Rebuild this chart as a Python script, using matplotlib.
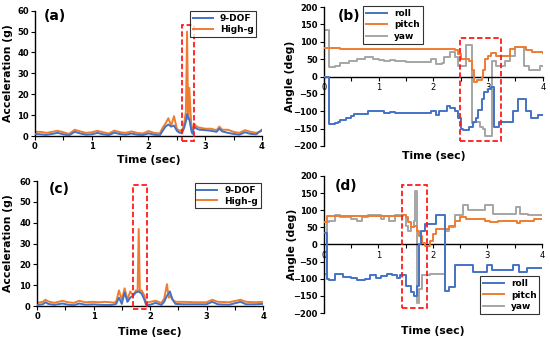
import matplotlib.pyplot as plt
from matplotlib.patches import Rectangle

BLUE = '#4472C4'
ORANGE = '#ED7D31'
GRAY = '#A5A5A5'
RED = '#FF1A1A'

# ---- (a) acceleration, first impact ----
t_a = [0, 0.1, 0.2, 0.3, 0.4, 0.5, 0.6, 0.7, 0.8, 0.9, 1.0, 1.1, 1.2, 1.3, 1.4,
       1.5, 1.6, 1.7, 1.8, 1.9, 2.0, 2.1, 2.2, 2.25, 2.3, 2.35, 2.4, 2.45, 2.5,
       2.55, 2.6, 2.63, 2.66, 2.68, 2.70, 2.72, 2.74, 2.76, 2.78, 2.8, 2.85, 2.9,
       3.0, 3.1, 3.2, 3.25, 3.3, 3.4, 3.5, 3.6, 3.7, 3.8, 3.9, 4.0]
dof_a = [1.0, 0.8, 0.5, 1.0, 1.5, 0.8, 0.3, 2.0, 1.2, 0.6, 0.8, 1.5, 0.8, 0.4, 1.6,
         0.9, 0.6, 1.2, 0.6, 0.4, 1.3, 0.6, 0.3, 2.5, 4.5, 5.5, 4.5, 5.0, 2.5,
         1.5, 2.0, 4.0, 7.0, 10.5, 9.0, 8.0, 5.0, 2.0, 1.0, 4.5, 3.5, 3.0,
         2.8, 2.5, 2.0, 3.5, 2.2, 1.5, 1.0, 0.6, 1.8, 1.0, 0.8, 3.0]
hig_a = [2.0, 2.0, 1.5, 2.0, 2.5, 1.8, 1.0, 3.0, 2.2, 1.5, 1.8, 2.5, 1.8, 1.2, 2.6,
         1.8, 1.5, 2.2, 1.5, 1.2, 2.4, 1.5, 1.2, 4.0, 6.0, 8.5, 5.0, 9.5, 3.5,
         2.5, 3.0, 6.0, 12.0, 50.0, 8.0, 23.0, 12.0, 3.0, 1.5, 6.0, 4.5, 4.0,
         3.5, 3.5, 2.8, 4.5, 3.0, 3.0, 2.0, 1.5, 2.8, 2.0, 1.5, 2.5]

# ---- (c) acceleration, second impact ----
t_c = [0, 0.1, 0.15, 0.2, 0.3, 0.45, 0.55, 0.65, 0.75, 0.85, 1.0, 1.1, 1.2, 1.3,
       1.35, 1.4, 1.45, 1.5, 1.55, 1.6, 1.65, 1.7, 1.75, 1.78, 1.8, 1.82, 1.85,
       1.9, 1.93, 2.0, 2.1, 2.2, 2.25, 2.3, 2.33, 2.35, 2.4, 2.45, 2.6, 2.8, 3.0,
       3.1, 3.2, 3.4, 3.6, 3.7, 3.85, 4.0]
dof_c = [0.5, 0.8, 1.8, 1.0, 0.5, 1.2, 0.6, 0.4, 1.2, 0.6, 0.8, 0.6, 0.5, 0.5,
         0.6, 1.0, 4.0, 1.0, 6.5, 2.0, 4.0, 5.0, 6.5, 6.8, 7.0, 6.5, 6.0,
         3.0, 0.5, 0.6, 1.5, 0.5, 2.0, 5.0, 6.0, 7.0, 3.0, 1.0, 0.8, 0.8, 0.8,
         2.0, 0.8, 0.6, 2.0, 0.8, 0.8, 1.0]
hig_c = [1.5, 2.0, 3.0, 2.2, 1.5, 2.5, 1.8, 1.5, 2.5, 1.8, 2.0, 1.8, 2.0, 1.8,
         1.6, 2.0, 7.5, 3.0, 8.5, 3.0, 7.0, 5.0, 7.5, 7.0, 37.0, 7.0, 7.5,
         5.0, 1.5, 2.0, 2.5, 1.5, 3.5, 10.5, 4.0, 5.0, 3.0, 2.0, 2.0, 1.8, 1.8,
         3.0, 2.0, 1.8, 3.0, 2.0, 1.8, 2.0]

# ---- (b) orientation, first impact ----
t_b_roll = [0, 0.08, 0.1, 0.2, 0.25, 0.3, 0.4, 0.5, 0.55, 0.8, 1.0, 1.1, 1.2, 1.3,
            1.95, 2.05, 2.1, 2.25, 2.3, 2.4, 2.45, 2.5, 2.55, 2.65, 2.72, 2.78,
            2.82, 2.88, 2.92, 3.0, 3.05, 3.1, 3.2, 3.45, 3.55, 3.7, 3.78, 3.92, 4.0]
roll_b = [0, 0, -137, -135, -130, -125, -120, -115, -108, -98, -100, -105, -103, -106,
          -98, -110, -100, -85, -92, -100, -120, -150, -155, -145, -130, -120,
          -95, -65, -45, -35, -30, -145, -132, -100, -65, -100, -120, -110, -110]
t_b_pitch = [0, 0.3, 0.5, 2.3, 2.4, 2.45, 2.5, 2.65, 2.7, 2.75, 2.8, 2.88, 2.9,
             2.95, 3.0, 3.05, 3.15, 3.4, 3.5, 3.7, 3.8, 4.0]
pitch_b = [82, 80, 78, 78, 75, 65, 50, 45, 20, -15, -10, 0, 20,
           50, 60, 68, 60, 80, 85, 75, 70, 67]
t_b_yaw = [0, 0.08, 0.1, 0.2, 0.3, 0.45, 0.6, 0.75, 0.9, 1.0, 1.1, 1.2, 1.3, 1.5,
           1.95, 2.05, 2.15, 2.2, 2.3, 2.4, 2.45, 2.6, 2.7, 2.75, 2.85, 2.9,
           2.95, 3.07, 3.15, 3.3, 3.4, 3.5, 3.65, 3.75, 3.95, 4.0]
yaw_b = [135, 135, 28, 30, 40, 45, 50, 55, 50, 48, 45, 48, 45, 43,
         50, 35, 40, 55, 70, 55, 30, 90, -135, -130, -145, -150,
         -170, 45, 30, 45, 60, 85, 30, 20, 30, 30]

# ---- (d) orientation, second impact ----
t_d_roll = [0, 0.05, 0.1, 0.2, 0.35, 0.5, 0.6, 0.75, 0.85, 0.95, 1.05, 1.15, 1.25,
            1.35, 1.4, 1.5, 1.6, 1.65, 1.7, 1.75, 1.78, 1.85, 2.05, 2.22, 2.3,
            2.4, 2.73, 2.99, 3.08, 3.47, 3.58, 3.72, 4.0]
roll_d = [35, -100, -105, -85, -95, -98, -105, -100, -90, -97, -92, -85, -90,
          -97, -90, -120, -140, -150, -120, 0, 40, 60, 85, -135, -125,
          -60, -80, -60, -75, -60, -80, -70, -70]
t_d_pitch = [0, 0.05, 0.3, 1.45, 1.5, 1.55, 1.6, 1.65, 1.7, 1.75, 1.8, 1.85, 1.95,
             2.0, 2.05, 2.3, 2.4, 2.5, 2.6, 2.95, 3.05, 3.2, 3.55, 3.6, 3.85, 4.0]
pitch_d = [65, 82, 84, 85, 80, 65, 50, 55, 40, 25, 5, -5, 10,
           30, 45, 55, 70, 80, 75, 68, 65, 70, 63, 70, 73, 73]
t_d_yaw = [0, 0.05, 0.1, 0.2, 0.3, 0.5, 0.6, 0.7, 0.8, 1.05, 1.1, 1.2, 1.3, 1.5,
           1.55, 1.6, 1.65, 1.68, 1.71, 1.75, 1.8, 1.95, 2.22, 2.3, 2.4, 2.55,
           2.65, 2.95, 3.1, 3.52, 3.6, 3.75, 4.0]
yaw_d = [-85, 65, 70, 85, 80, 75, 70, 80, 85, 75, 82, 70, 85, 55,
         40, 50, 70, 155, -170, -130, -90, -85, 40, 50, 85, 115,
         100, 115, 90, 110, 90, 85, 85]

# dashed boxes: (t0, t1, y0, y1)
box_a = (2.59, 2.80, -2.4, 53)
box_b = (2.48, 3.23, -185, 111)
box_c = (1.70, 1.95, -1.5, 58)
box_d = (1.43, 1.89, -185, 174)

fig = plt.figure(figsize=(5.5, 3.4), dpi=100)
ax_a = fig.add_axes([0.0636, 0.600, 0.4127, 0.3685])
ax_b = fig.add_axes([0.589, 0.5706, 0.398, 0.4088])
ax_c = fig.add_axes([0.0673, 0.100, 0.411, 0.3676])
ax_d = fig.add_axes([0.589, 0.0794, 0.396, 0.403])

lw = 1.4
tick_font = 6
lab_font = 7.8


def box(ax, b):
    ax.add_patch(Rectangle((b[0], b[2]), b[1] - b[0], b[3] - b[2], fill=False,
                           ec=RED, ls=(0, (3, 1.5)), lw=1.3, clip_on=False, zorder=5))


def style(ax):
    for s in ['top', 'right']:
        ax.spines[s].set_visible(False)
    for s in ['left', 'bottom']:
        ax.spines[s].set_linewidth(1.0)
    ax.set_xlim(0, 4)
    ax.set_xticks([0, 1, 2, 3, 4])
    ax.set_xticks([0.5, 1.5, 2.5, 3.5], minor=True)
    ax.tick_params(labelsize=tick_font, length=3, width=0.8, pad=1.5)
    ax.tick_params(which='minor', length=3, width=0.8)
    for lbl in ax.get_xticklabels() + ax.get_yticklabels():
        lbl.set_fontweight('bold')


def accel(ax, t, d, h, tag, ylx, xly, leg_anchor, tag_xy):
    ax.plot(t, d, color=BLUE, lw=lw, label='9-DOF', zorder=3)
    ax.plot(t, h, color=ORANGE, lw=lw, label='High-g', zorder=2)
    style(ax)
    ax.set_ylim(0, 60)
    ax.set_yticks(range(0, 61, 10))
    ax.set_ylabel('Acceleration (g)', fontsize=lab_font, fontweight='bold')
    ax.set_xlabel('Time (sec)', fontsize=lab_font, fontweight='bold')
    ax.yaxis.set_label_coords(ylx, 0.5)
    ax.xaxis.set_label_coords(0.5, xly)
    leg = ax.legend(loc='upper right', bbox_to_anchor=leg_anchor,
                    frameon=True, fancybox=False, edgecolor='black',
                    handlelength=2.2, borderpad=0.3, labelspacing=0.2,
                    prop={'weight': 'bold', 'size': 6.5})
    leg.get_frame().set_linewidth(0.8)
    ax.text(tag_xy[0], tag_xy[1], tag, transform=ax.transAxes, fontsize=10,
            fontweight='bold', va='center', ha='left')


def angles(ax, tr, r, tp, p, ty, y, tag, ylx, xly, leg_loc, leg_anchor, tag_xy):
    ax.plot(tr, r, color=BLUE, lw=lw, drawstyle='steps-post', label='roll', zorder=4)
    ax.plot(tp, p, color=ORANGE, lw=lw, drawstyle='steps-post', label='pitch', zorder=3)
    ax.plot(ty, y, color=GRAY, lw=lw, drawstyle='steps-post', label='yaw', zorder=2)
    style(ax)
    ax.spines['bottom'].set_position(('data', 0))
    ax.set_ylim(-200, 200)
    ax.set_yticks(range(-200, 201, 50))
    ax.set_ylabel('Angle (deg)', fontsize=lab_font, fontweight='bold')
    ax.set_xlabel('Time (sec)', fontsize=lab_font, fontweight='bold')
    ax.yaxis.set_label_coords(ylx, 0.5)
    ax.xaxis.set_label_coords(0.5, xly)
    leg = ax.legend(loc=leg_loc, bbox_to_anchor=leg_anchor, frameon=True,
                    fancybox=False, edgecolor='black', handlelength=2.3,
                    handletextpad=0.8, borderpad=0.3, labelspacing=0.3,
                    prop={'weight': 'bold', 'size': 6.5})
    leg.get_frame().set_linewidth(0.8)
    ax.text(tag_xy[0], tag_xy[1], tag, transform=ax.transAxes, fontsize=10,
            fontweight='bold', va='center', ha='left')


accel(ax_a, t_a, dof_a, hig_a, '(a)', -0.097, -0.15, (0.995, 1.03), (0.04, 0.955))
box(ax_a, box_a)
accel(ax_c, t_c, dof_c, hig_c, '(c)', -0.106, -0.168, (1.01, 1.02), (0.05, 0.935))
box(ax_c, box_c)
angles(ax_b, t_b_roll, roll_b, t_b_pitch, pitch_b, t_b_yaw, yaw_b, '(b)',
       -0.132, -0.036, 'upper left', (0.16, 1.04), (0.065, 0.935))
box(ax_b, box_b)
angles(ax_d, t_d_roll, roll_d, t_d_pitch, pitch_d, t_d_yaw, yaw_d, '(d)',
       -0.124, -0.095, 'lower right', (1.01, -0.04), (0.05, 0.925))
box(ax_d, box_d)

fig.savefig('out.png', dpi=100)
